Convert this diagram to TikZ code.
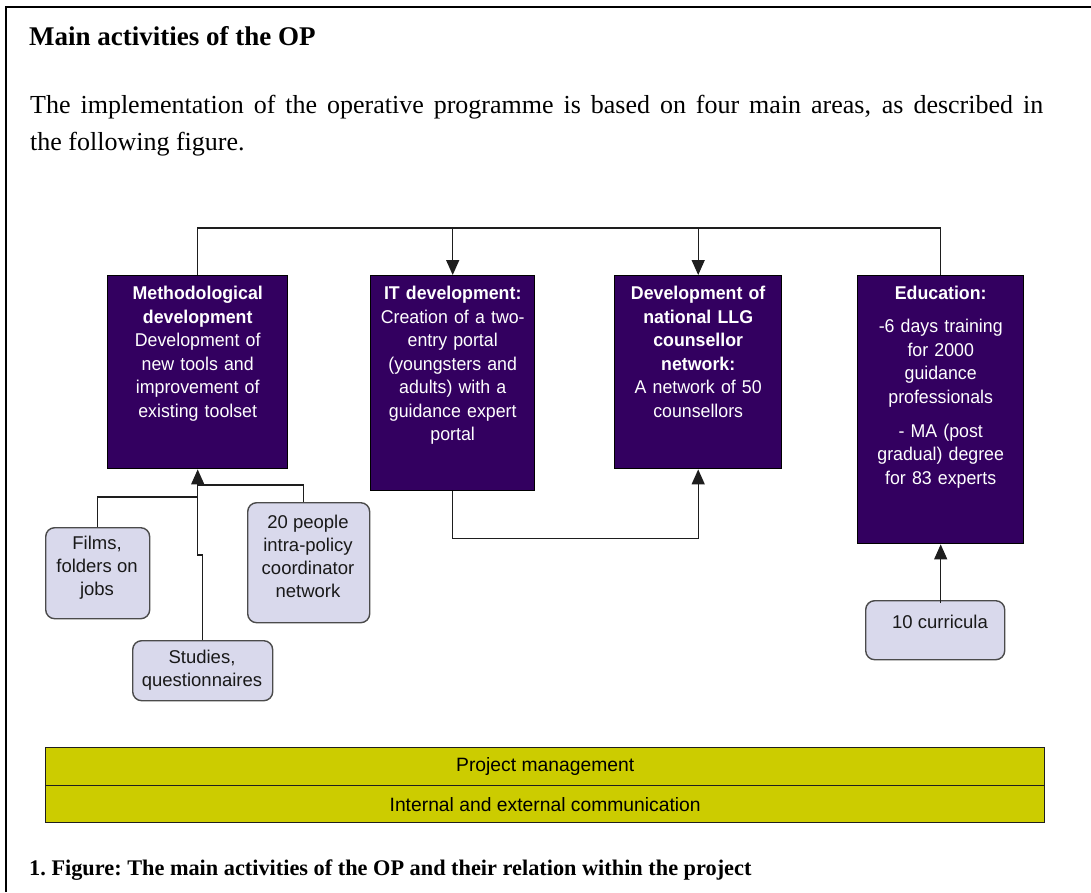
\documentclass[tikz,border=0pt]{standalone}
\usepackage{fontspec}
\setmainfont{Liberation Serif}
\setsansfont{Liberation Sans}
\newfontfamily\areafont[FakeStretch=0.96]{Liberation Sans}
\usetikzlibrary{arrows.meta}
\definecolor{opviolet}{RGB}{51,0,96}
\definecolor{oplav}{RGB}{217,217,236}
\definecolor{opyellow}{RGB}{204,204,0}
\definecolor{opline}{RGB}{30,30,30}
\begin{document}
\begin{tikzpicture}[x=1pt,y=-1pt,
  area/.style={draw=black, line width=1.4pt, fill=opviolet, anchor=north west, inner sep=0pt},
  areatext/.style={anchor=north, text=white, inner sep=0pt, align=center,
    font=\areafont\fontsize{18.5}{23.5}\selectfont},
  input/.style={draw=opline!80, line width=1.4pt, fill=oplav, rounded corners=9pt,
    anchor=north west, inner sep=0pt},
  inputtext/.style={text=black!90, inner sep=0pt, align=center,
    font=\sffamily\fontsize{18.5}{23}\selectfont},
  bar/.style={draw=opline, line width=1.4pt, fill=opyellow, anchor=north west, inner sep=0pt,
    minimum width=999pt, font=\sffamily\fontsize{19.3}{23}\selectfont, text=black},
  link/.style={draw=opline, line width=1.4pt},
  arr/.style={link, -{Triangle[length=15pt,width=13pt]}},
  serif/.style={anchor=base west, inner sep=0pt, text=black}]

\useasboundingbox (0,0) rectangle (1091,892);
\fill[white] (0,0) rectangle (1091,892);
% page frame
\draw[line width=2.2pt, black] (6,892) -- (6,7) -- (1091,7);

% heading and introduction
\node[serif, font=\bfseries\fontsize{27}{30}\selectfont] (title) at (29,45) {Main activities of the OP};
\node[serif, font=\fontsize{26}{37}\selectfont] (intro1) at (30,113)
  {\makebox[1013pt][s]{The implementation of the operative programme is based on four main areas, as described in}};
\node[serif, font=\fontsize{26}{37}\selectfont] (intro2) at (30,150) {the following figure.};

% four main areas
\node[area, minimum width=180pt, minimum height=193pt] (meth) at (107,275) {};
\node[area, minimum width=164pt, minimum height=215pt] (it)   at (370,275) {};
\node[area, minimum width=167pt, minimum height=193pt] (llg)  at (614,275) {};
\node[area, minimum width=166pt, minimum height=268pt] (edu)  at (857,275) {};

\node[areatext, text width=176pt] (metht) at ([yshift=-8pt]meth.north)
  {\strut\textbf{Methodological}\\\textbf{development}\\Development of\\new tools and\\improvement of\\existing toolset};
\node[areatext, text width=160pt] (itt) at ([yshift=-8pt]it.north)
  {\strut\textbf{IT development:}\\Creation of a two-\\entry portal\\(youngsters and\\adults) with a\\guidance expert\\portal};
\node[areatext, text width=163pt] (llgt) at ([yshift=-8pt]llg.north)
  {\strut\textbf{Development of}\\\textbf{national LLG}\\\textbf{counsellor}\\\textbf{network:}\\A network of 50\\counsellors};
\node[areatext, text width=162pt] (edut) at ([yshift=-8pt]edu.north)
  {\strut\textbf{Education:}\\[9.5pt]-6 days training\\for 2000\\guidance\\professionals\\[10.5pt]- MA (post\\gradual) degree\\for 83 experts};

% inputs
\node[input, minimum width=104pt, minimum height=91pt]  (films) at (45,527) {};
\node[input, minimum width=122pt, minimum height=120pt] (ppl)   at (247,502) {};
\node[input, minimum width=140pt, minimum height=60pt]  (stud)  at (132,640) {};
\node[input, minimum width=139pt, minimum height=59pt]  (curr)  at (865,600) {};

\node[inputtext] (filmst) at (97,568) {Films,\\folders on\\jobs};
\node[inputtext] (pplt)   at (308,556) {20 people\\intra-policy\\coordinator\\network};
\node[inputtext] (studt)  at (202,670) {Studies,\\questionnaires};
\node[inputtext] (currt)  at (940,622) {10 curricula};

% cross-cutting activities
\node[bar, minimum height=38pt] (pm) at (45,747) {Project management};
\node[bar, minimum height=37pt] (ic) at (45,785) {Internal and external communication};

% caption
\node[serif, font=\bfseries\fontsize{22.3}{26}\selectfont] (cap) at (29,875)
  {\frenchspacing 1. Figure: The main activities of the OP and their relation within the project};

% connectors
\coordinate (bus) at (0,228);
\draw[link] (meth.north) -- (meth.north |- bus) -- (edu.north |- bus) -- (edu.north);
\draw[arr] (it.north |- bus) -- (it.north);
\draw[arr] (llg.north |- bus) -- (llg.north);
\draw[arr] (it.south) -- ++(0,47) -| (llg.south);
\draw[arr] ([yshift=-3pt]edu.south |- curr.north) -- (edu.south);

\coordinate (jf) at (0,497);
\coordinate (jp) at (0,485);
\coordinate (js) at (0,555);
\draw[link] (films.north) -- (films.north |- jf) -- (meth.south |- jf);
\draw[link] ([xshift=-5pt]ppl.north) -- ([xshift=-5pt]ppl.north |- jp) -- (meth.south |- jp);
\draw[arr] (stud.north) -- (stud.north |- js) -- (meth.south |- js) -- (meth.south);
\end{tikzpicture}
\end{document}
